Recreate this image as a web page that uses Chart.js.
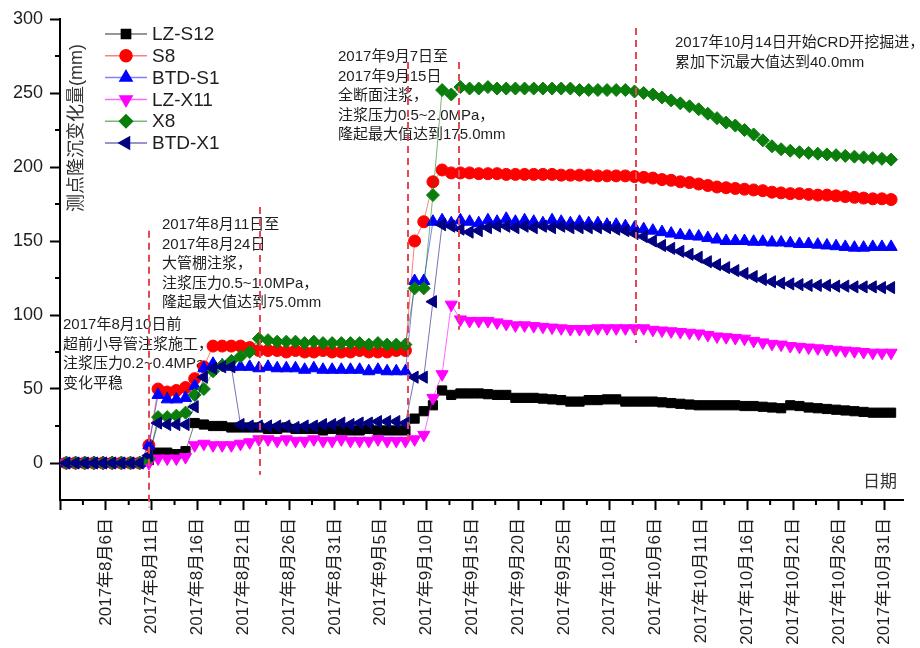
<!DOCTYPE html>
<html lang="zh-CN">
<head>
<meta charset="UTF-8">
<title>测点隆沉变化量</title>
<script src="https://cdn.jsdelivr.net/npm/chart.js@4"></script>
<style>
    html, body {
        margin: 0;
        padding: 0;
        background: #ffffff;
    }

    #wrap {
        width: 920px;
        height: 648px;
    }
</style>
</head>
<body>

<div id="wrap"><canvas id="graphSettlement" width="920" height="648"></canvas></div>

<script>
    // Tick labels of the date axis, one every 5 units (value 5 = first label)
    const tickLabels = ['2017年8月6日', '2017年8月11日', '2017年8月16日', '2017年8月21日', '2017年8月26日',
        '2017年8月31日', '2017年9月5日', '2017年9月10日', '2017年9月15日', '2017年9月20日', '2017年9月25日',
        '2017年10月1日', '2017年10月6日', '2017年10月11日', '2017年10月16日', '2017年10月21日',
        '2017年10月26日', '2017年10月31日'];

    // Position of the first measurement on the day axis
    const firstDay = 0.7;

    // Measured values (mm), one per day
    const lzS12 = [0, 0, 0, 0, 0, 0, 0, 0, 0, 2,
        7, 7, 6, 8,
        27, 26, 25, 25, 24, 24, 24, 24, 23, 23, 24, 23, 23, 23, 22, 23, 22, 22, 22, 23, 22, 22, 22, 22,
        30, 35, 39, 49, 46, 47, 47,
        47, 46.5, 46, 46, 44, 44, 44, 43.5, 43, 42.5, 41.5, 41.5, 42.5, 42.5, 43, 43, 41.5, 41.5, 41.5, 41.5,
        41, 40.5, 40, 39.5, 39, 39, 39, 39, 39, 38.5, 38.5, 38, 37.5, 37, 39, 38.5, 37.5, 37, 36.5, 36,
        35.5, 35, 34.5, 34, 34, 34];

    const s8 = [0, 0, 0, 0, 0, 0, 0, 0, 0, 12,
        50, 48, 49, 51, 57, 65, 79, 79, 79, 79, 78, 76,
        76, 76, 75, 76, 75, 75, 76, 75, 75, 75, 76, 75, 75, 75, 76, 76,
        150, 163, 190, 198, 196,
        196, 196, 195.5, 195.5, 195.5, 195, 195, 195, 195, 195, 195, 194.5, 194.5, 194.5, 194.5, 194, 194,
        194, 194, 193.5, 193, 192.5, 191.5, 191, 190, 189.5, 188.5, 187.5, 186.5, 186, 185.5, 185, 184.5,
        184, 183, 182.5, 182, 182, 181.5, 181, 181, 180.5, 180, 179.5, 179, 178.5, 178.5, 178];

    const btdS1 = [0, 0, 0, 0, 0, 0, 0, 0, 0, 12,
        46, 43, 43, 44, 52, 64, 67, 66, 65, 65,
        65, 64, 65, 64, 64, 64, 63, 64, 63, 63, 63, 63, 63, 62, 63, 62, 62, 62,
        123, 123, 163, 164, 162,
        164, 163, 162, 164, 163, 165, 163, 164, 163, 162, 164, 163, 162, 163, 162, 162, 161, 161, 160,
        159, 158, 157, 156, 155, 154, 153.5, 153, 152, 151, 150, 150, 150, 149.5, 149.5, 149, 149, 148.5,
        148, 148, 147.5, 147, 146.5, 146, 145.5, 145.5, 146, 146, 146];

    const lzX11 = [0, 0, 0, 0, 0, 0, 0, 0, 0, 0,
        3, 3, 3, 4,
        12, 13, 12, 12, 12, 13, 14, 16, 16, 15, 16, 15, 15, 16, 15, 15, 16, 15, 15, 15, 16, 15, 15, 15,
        16, 19, 44, 60, 107, 97, 96,
        96, 96, 95, 94, 93, 93, 92.5, 92, 91.5, 91, 90.5, 90.5, 90.5, 91, 91, 91, 91, 91, 91, 90,
        89.5, 89, 88.5, 88, 87.5, 86.5, 85.5, 85, 84.5, 84, 82.5, 81.5, 80.5, 80, 79, 78.5, 78, 77.5, 77,
        76.5, 76, 75.5, 75, 74.5, 74.5, 74.5];

    const x8 = [0, 0, 0, 0, 0, 0, 0, 0, 0, 3,
        31, 31, 32, 34, 46, 50, 62, 66, 69, 72, 75, 84, 83,
        82, 82, 82, 81, 82, 81, 81, 81, 81, 81, 80, 81, 80, 80, 80,
        118, 118, 181, 252, 249,
        254, 253, 253, 254, 253, 253, 253, 253, 253, 253, 253, 253, 253, 252, 252, 252, 252, 252,
        252, 251, 250, 249, 247, 245, 243, 241, 239, 236, 233, 230, 228, 225, 222, 218, 214, 212, 211, 210,
        209.5, 209, 208.5, 208, 207.5, 207, 206.5, 206, 205.5, 205];

    const btdX1 = [0, 0, 0, 0, 0, 0, 0, 0, 0, 5,
        27, 26, 26, 26, 38, 58, 64, 65, 65, 26,
        25, 25, 25, 25, 25, 24, 25, 25, 26, 26, 27, 26, 27, 27, 28, 28, 28, 27,
        58, 58, 109, 161, 160,
        158, 156, 157, 159, 160, 160, 159, 160, 159, 160, 159, 160, 159, 159, 159, 159, 159, 158, 157,
        155, 153, 150, 147, 145, 143, 141, 139, 136, 134, 132, 130, 128, 126, 124, 122.5, 121.5, 121, 120.5,
        120, 120, 120, 119.5, 119.5, 119, 119, 119, 118.5, 118.5];

    // Red dashed construction-stage markers (x on day axis, y range in mm)
    const stageLines = [
        { x: 9.71, from: -30, to: 157 },
        { x: 21.83, from: -8, to: 173 },
        { x: 37.98, from: 15, to: 271 },
        { x: 43.55, from: 90, to: 271 },
        { x: 62.86, from: 81, to: 294 }
    ];

    // Annotation texts, anchored at (x, y) of their first line
    const notes = [
        { x: 0.33, y: 93.2, lines: ['2017年8月10日前', '超前小导管注浆施工，', '注浆压力0.2~0.4MPa，', '变化平稳'] },
        { x: 11.13, y: 160.8, lines: ['2017年8月11日至', '2017年8月24日', '大管棚注浆，', '注浆压力0.5~1.0MPa，', '隆起最大值达到75.0mm'] },
        { x: 30.34, y: 274.3, lines: ['2017年9月7日至', '2017年9月15日', '全断面注浆，', '注浆压力0.5~2.0MPa，', '隆起最大值达到175.0mm'] },
        { x: 67.12, y: 283.8, lines: ['2017年10月14日开始CRD开挖掘进，', '累加下沉最大值达到40.0mm'] }
    ];

    const textFont = "'Liberation Sans', 'Noto Sans CJK SC', sans-serif";

    function toPoints(values) {
        return values.map((v, i) => ({ x: firstDay + i, y: v }));
    }

    function makeSeries(label, values, color, lineColor, style, rotation, radius, order) {
        return {
            label: label,
            data: toPoints(values),
            borderColor: lineColor,
            borderWidth: 1,
            backgroundColor: color,
            pointBackgroundColor: color,
            pointBorderColor: color,
            pointBorderWidth: 1,
            pointStyle: style,
            pointRotation: rotation,
            pointRadius: radius,
            tension: 0,
            order: order
        };
    }

    // Markers and notes drawn on top of the plot
    const overlayPlugin = {
        id: 'overlay',
        beforeDatasetsDraw(chart) {
            const ctx = chart.ctx;
            const xs = chart.scales.x;
            const ys = chart.scales.y;
            ctx.save();
            ctx.fillStyle = '#1e1e1e';
            ctx.font = '15px ' + textFont;
            ctx.textAlign = 'left';
            ctx.textBaseline = 'middle';
            notes.forEach(n => {
                const px = xs.getPixelForValue(n.x);
                const py = ys.getPixelForValue(n.y);
                n.lines.forEach((t, k) => ctx.fillText(t, px, py + k * 19.5));
            });

            // axis titles placed inside the plot, as in the original
            ctx.font = '18px ' + textFont;
            ctx.fillStyle = '#333333';
            ctx.translate(77, 128);
            ctx.rotate(-Math.PI / 2);
            ctx.textAlign = 'center';
            ctx.fillText('测点隆沉变化量(mm)', 0, 0);
            ctx.restore();

            ctx.save();
            ctx.font = '17px ' + textFont;
            ctx.fillStyle = '#333333';
            ctx.textAlign = 'right';
            ctx.textBaseline = 'middle';
            ctx.fillText('日期', 897, 482);
            ctx.restore();
        },
        afterDatasetsDraw(chart) {
            const ctx = chart.ctx;
            const xs = chart.scales.x;
            const ys = chart.scales.y;
            const area = chart.chartArea;

            // dashed stage lines
            ctx.save();
            ctx.strokeStyle = '#e04a55';
            ctx.lineWidth = 2;
            ctx.setLineDash([7, 5]);
            stageLines.forEach(s => {
                const px = Math.round(xs.getPixelForValue(s.x));
                ctx.beginPath();
                ctx.moveTo(px, ys.getPixelForValue(s.to));
                ctx.lineTo(px, ys.getPixelForValue(s.from));
                ctx.stroke();
            });
            ctx.restore();

            // minor ticks
            ctx.save();
            ctx.strokeStyle = '#000000';
            ctx.lineWidth = 2;
            ctx.beginPath();
            for (let v = 2.5; v < xs.max; v += 5) {
                const px = xs.getPixelForValue(v);
                ctx.moveTo(px, area.bottom);
                ctx.lineTo(px, area.bottom + 5);
            }
            for (let v = 25; v < ys.max; v += 50) {
                const py = ys.getPixelForValue(v);
                ctx.moveTo(area.left, py);
                ctx.lineTo(area.left - 5, py);
            }
            ctx.stroke();
            ctx.restore();

            // legend in the upper left corner
            ctx.save();
            ctx.font = '19px ' + textFont;
            ctx.textAlign = 'left';
            ctx.textBaseline = 'middle';
            chart.data.datasets.forEach((ds, k) => {
                const y = 34 + k * 21.8;
                ctx.strokeStyle = ds.borderColor;
                ctx.lineWidth = 1.5;
                ctx.setLineDash([]);
                ctx.beginPath();
                ctx.moveTo(105, y);
                ctx.lineTo(147, y);
                ctx.stroke();
                ctx.fillStyle = ds.pointBackgroundColor;
                ctx.strokeStyle = ds.pointBorderColor;
                if (Chart.helpers && Chart.helpers.drawPoint) {
                    Chart.helpers.drawPoint(ctx, {
                        pointStyle: ds.pointStyle,
                        rotation: ds.pointRotation,
                        radius: ds.pointRadius,
                        borderWidth: 1
                    }, 126, y);
                }
                ctx.fillStyle = '#1e1e1e';
                ctx.fillText(ds.label, 152, y + 1);
            });
            ctx.restore();
        }
    };

    const ctx1 = document.getElementById('graphSettlement').getContext('2d');
    const graphSettlement = new Chart(ctx1, {
        type: 'line',
        data: {
            datasets: [
                makeSeries('LZ-S12', lzS12, '#000000', 'rgba(0,0,0,0.55)', 'rect', 0, 6.5, 6),
                makeSeries('S8', s8, '#ff0000', 'rgba(255,0,0,0.5)', 'circle', 0, 6, 5),
                makeSeries('BTD-S1', btdS1, '#0000ff', 'rgba(0,0,255,0.5)', 'triangle', 0, 7, 4),
                makeSeries('LZ-X11', lzX11, '#ff00ff', 'rgba(255,0,255,0.6)', 'triangle', 180, 7, 3),
                makeSeries('X8', x8, '#0a7d0a', 'rgba(10,125,10,0.55)', 'rectRot', 0, 6.5, 2),
                makeSeries('BTD-X1', btdX1, '#000080', 'rgba(0,0,128,0.55)', 'triangle', -90, 7, 1)
            ]
        },
        options: {
            responsive: false,
            animation: false,
            devicePixelRatio: 1,
            layout: {
                padding: { top: 19, right: 17, bottom: 0, left: 0 }
            },
            plugins: {
                legend: { display: false },
                tooltip: { enabled: false }
            },
            scales: {
                x: {
                    type: 'linear',
                    min: 0,
                    max: 92,
                    afterFit(scale) { scale.height = 148; },
                    border: { display: true, color: '#000000', width: 2 },
                    grid: {
                        drawOnChartArea: false,
                        drawTicks: true,
                        tickLength: 10,
                        tickWidth: 2,
                        tickColor: '#000000'
                    },
                    ticks: {
                        stepSize: 5,
                        includeBounds: false,
                        autoSkip: false,
                        minRotation: 90,
                        maxRotation: 90,
                        padding: 8,
                        color: '#1e1e1e',
                        font: { family: textFont, size: 17 },
                        callback: function(value) {
                            const k = Math.round(value / 5) - 1;
                            return k >= 0 && k < tickLabels.length ? tickLabels[k] : '';
                        }
                    }
                },
                y: {
                    min: -25,
                    max: 300,
                    afterFit(scale) { scale.width = 60; },
                    border: { display: true, color: '#000000', width: 2 },
                    grid: {
                        drawOnChartArea: false,
                        drawTicks: true,
                        tickLength: 10,
                        tickWidth: 2,
                        tickColor: '#000000'
                    },
                    ticks: {
                        stepSize: 50,
                        includeBounds: false,
                        padding: 7,
                        color: '#1e1e1e',
                        font: { family: textFont, size: 18 }
                    }
                }
            }
        },
        plugins: [overlayPlugin]
    });
</script>

</body>
</html>
